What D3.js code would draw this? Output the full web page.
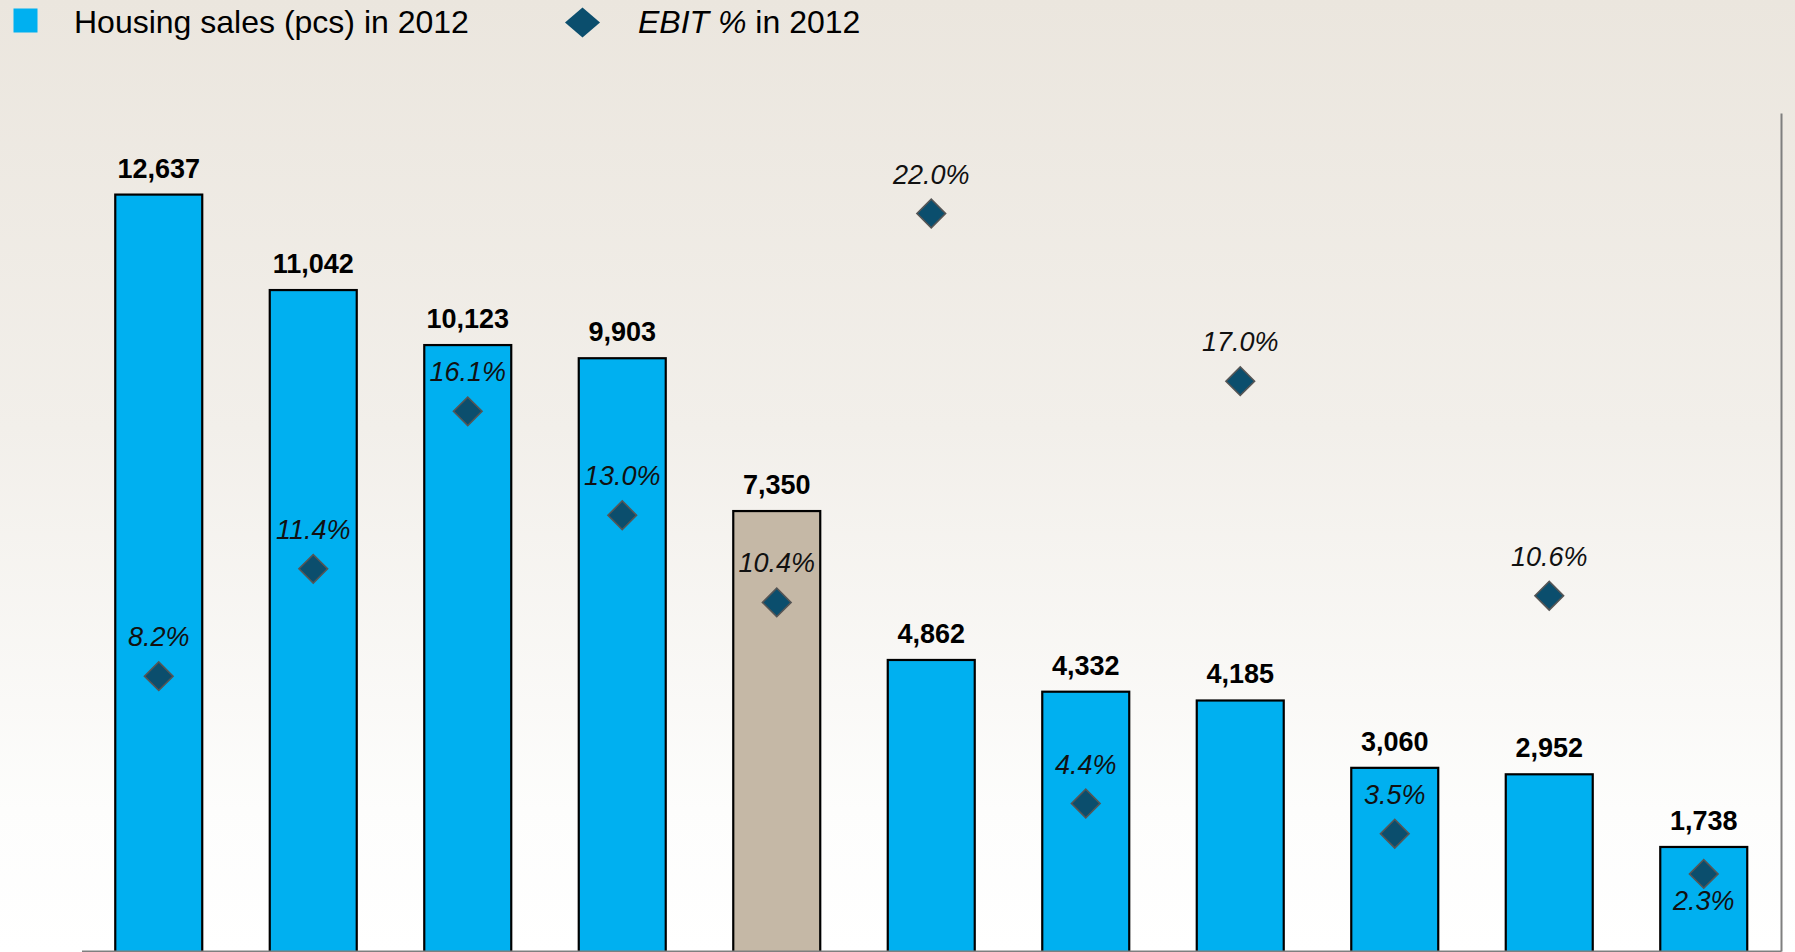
<!DOCTYPE html>
<html lang="en">
<head>
<meta charset="UTF-8">
<title>Housing sales and EBIT % in 2012</title>
<script src="https://cdn.jsdelivr.net/npm/d3@7"></script>
<style>
  body { margin: 0; }
  svg { display: block; font-family: "Liberation Sans", Arial, sans-serif; }
  .bar { stroke: #000; stroke-width: 2.2; }
  .axis path { stroke: #7f7f7f; stroke-width: 2; }
  .val { font-weight: bold; font-size: 27px; fill: #000; }
  .pct { font-style: italic; font-size: 27px; fill: #111; }
  .diamond { fill: #0b4e6d; stroke: #555; stroke-width: 1.6; }
  .legend { font-size: 32px; fill: #000; }
</style>
</head>
<body>
<svg id="chart" width="1795" height="952"></svg>
<script>
// housing sales (pcs) per company, 2012
const sales = [12637, 11042, 10123, 9903, 7350, 4862, 4332, 4185, 3060, 2952, 1738];
// EBIT % per company, 2012
const ebit = [8.2, 11.4, 16.1, 13.0, 10.4, 22.0, 4.4, 17.0, 3.5, 10.6, 2.3];
const highlighted = 4;     // the tan bar
const salesMax = 14000;
const ebitMax = 25;

const W = 1795, H = 952;
const margin = {top: 113, right: 14, bottom: 1, left: 81.5};
const svg = d3.select('#chart');

const defs = svg.append('defs');
const grad = defs.append('linearGradient')
    .attr('id', 'bg').attr('x1', 0).attr('y1', 0).attr('x2', 0).attr('y2', 1);
grad.append('stop').attr('offset', '0%').attr('stop-color', '#ebe6de');
grad.append('stop').attr('offset', '45%').attr('stop-color', '#f2efea');
grad.append('stop').attr('offset', '85%').attr('stop-color', '#fdfdfc');
grad.append('stop').attr('offset', '100%').attr('stop-color', '#ffffff');
svg.append('rect').attr('width', W).attr('height', H).attr('fill', 'url(#bg)');

const x = d3.scaleBand()
    .domain(d3.range(sales.length))
    .range([margin.left, W - margin.right])
    .paddingInner(0.437)
    .paddingOuter(0.2185);
const y = d3.scaleLinear().domain([0, salesMax]).range([H - margin.bottom, margin.top]);
const y2 = d3.scaleLinear().domain([0, ebitMax]).range([H - margin.bottom, margin.top]);

// bars
svg.append('g').selectAll('rect')
    .data(sales)
    .join('rect')
    .attr('class', 'bar')
    .attr('x', (d, i) => x(i))
    .attr('y', d => y(d))
    .attr('width', x.bandwidth())
    .attr('height', d => y(0) - y(d) + 4)
    .attr('fill', (d, i) => i === highlighted ? '#c5b8a6' : '#00b0f0');

// axes (lines only)
svg.append('g').attr('class', 'axis')
    .attr('transform', `translate(0,${y(0)})`)
    .call(d3.axisBottom(d3.scaleLinear().range([margin.left, W - margin.right])).tickValues([]).tickSizeOuter(0));
svg.append('g').attr('class', 'axis')
    .attr('transform', `translate(${W - margin.right},0)`)
    .call(d3.axisRight(y2).tickValues([]).tickSizeOuter(0));

// sales labels
svg.append('g').selectAll('text')
    .data(sales)
    .join('text')
    .attr('class', 'val')
    .attr('text-anchor', 'middle')
    .attr('x', (d, i) => x(i) + x.bandwidth() / 2)
    .attr('y', d => y(d) - 17)
    .text(d => d3.format(',')(d));

// EBIT diamonds
const diamond = d3.symbol().type(d3.symbolSquare).size(410);
svg.append('g').selectAll('path')
    .data(ebit)
    .join('path')
    .attr('class', 'diamond')
    .attr('d', diamond)
    .attr('transform', (d, i) => `translate(${x(i) + x.bandwidth() / 2},${y2(d)}) rotate(45)`);

// EBIT labels: last one sits under its diamond
svg.append('g').selectAll('text')
    .data(ebit)
    .join('text')
    .attr('class', 'pct')
    .attr('text-anchor', 'middle')
    .attr('x', (d, i) => x(i) + x.bandwidth() / 2)
    .attr('y', (d, i) => i === ebit.length - 1 ? y2(d) + 36 : y2(d) - 30)
    .text(d => d.toFixed(1) + '%');

// legend
const lg = svg.append('g');
lg.append('rect').attr('x', 13.5).attr('y', 8.5).attr('width', 24).attr('height', 24).attr('fill', '#00b0f0');
lg.append('text').attr('class', 'legend').attr('x', 74).attr('y', 32.5).text('Housing sales (pcs) in 2012');
lg.append('path')
    .attr('d', 'M0,-15L17.5,0L0,15L-17.5,0Z')
    .attr('transform', 'translate(582.5,22.5)')
    .attr('fill', '#0b4e6d');
const t2 = lg.append('text').attr('class', 'legend').attr('x', 638).attr('y', 32.5);
t2.append('tspan').attr('font-style', 'italic').text('EBIT %');
t2.append('tspan').text(' in 2012');
</script>
</body>
</html>
